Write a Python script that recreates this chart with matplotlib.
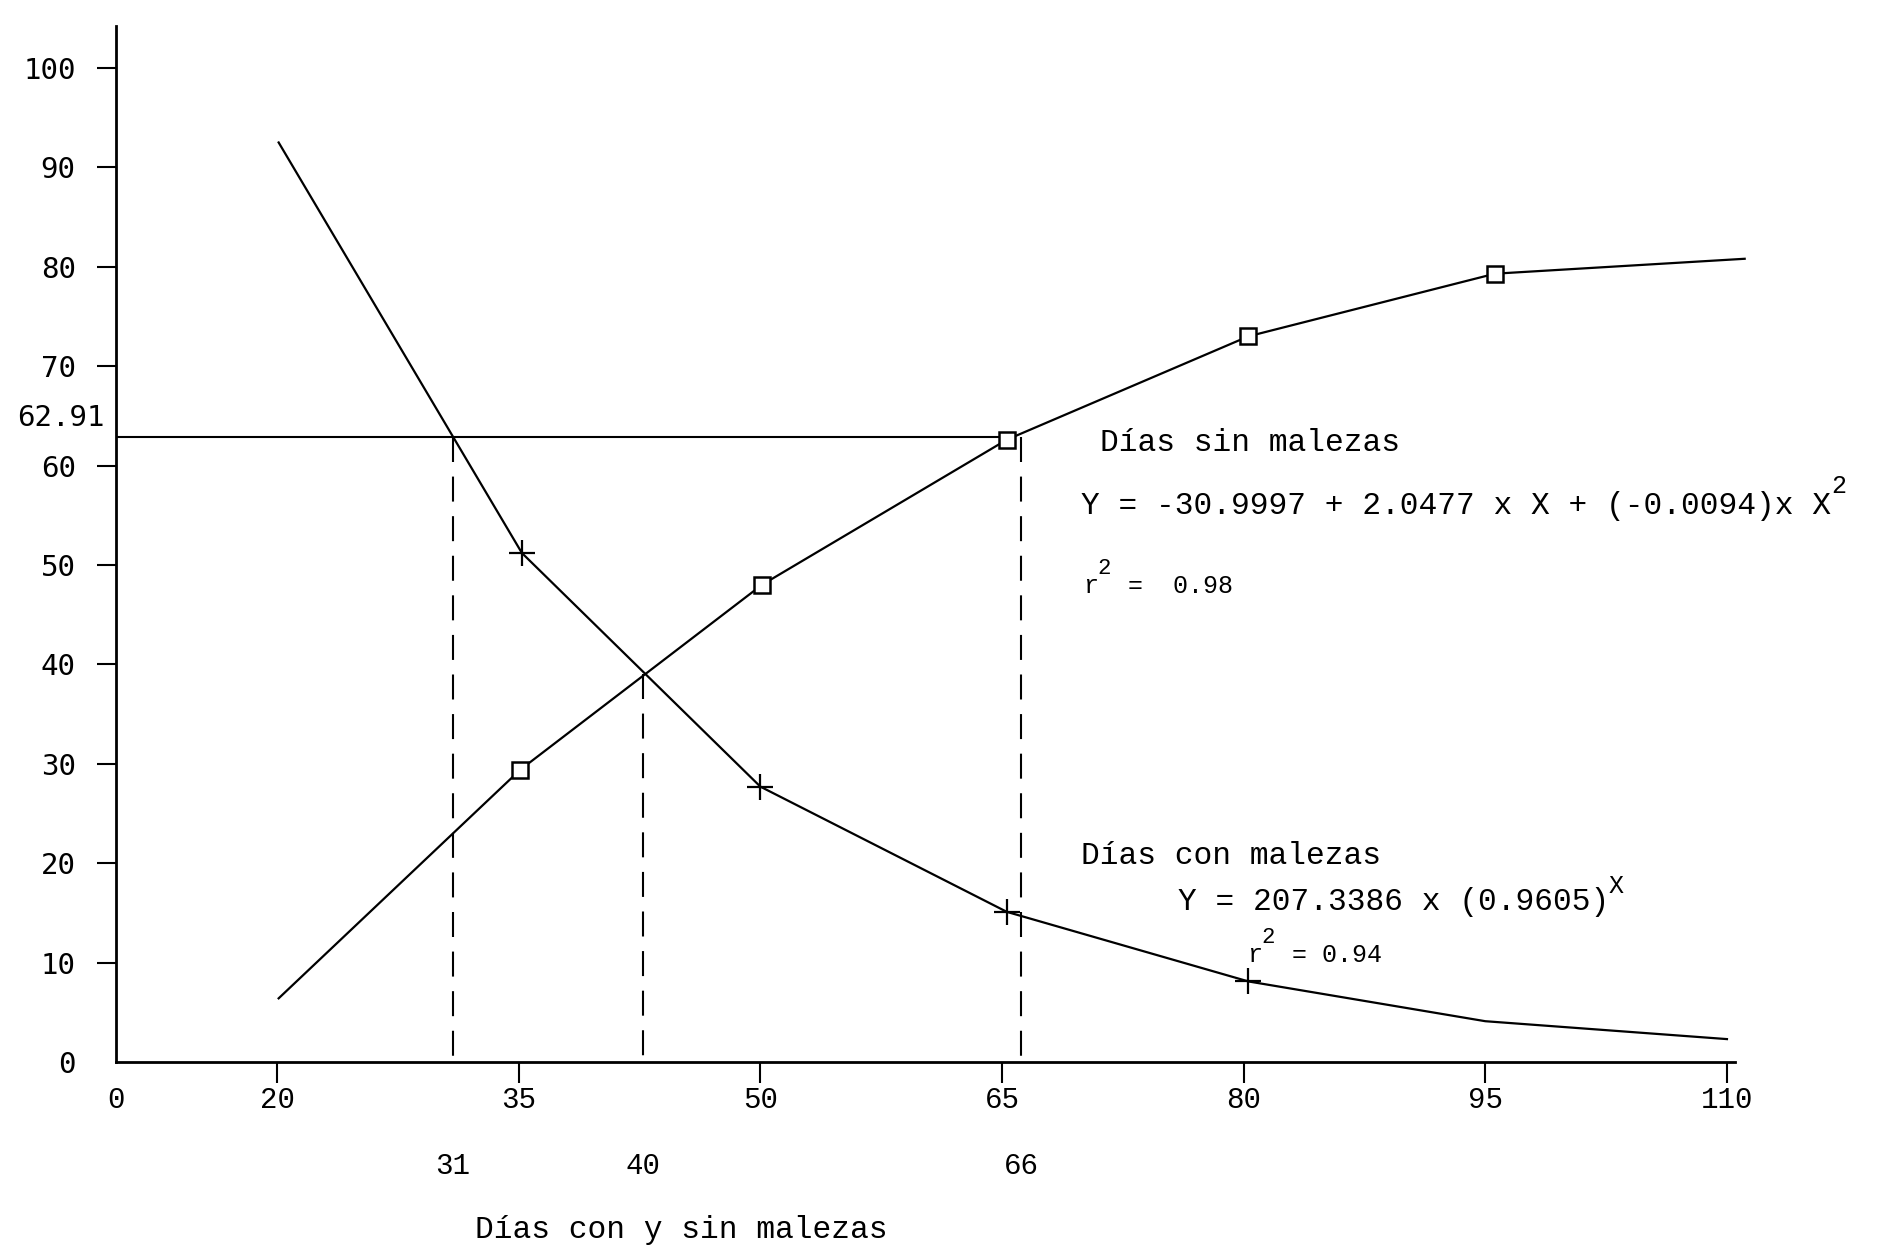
import matplotlib.pyplot as plt

plt.rcParams['font.family'] = ['Liberation Mono', 'DejaVu Sans Mono']

# Días sin malezas (cuadrados)
sin_x = [20.1, 35.1, 50.1, 65.3, 80.3, 95.6, 111.1]
sin_y = [6.4, 29.4, 48.0, 62.6, 73.0, 79.3, 80.8]
sin_mark = [False, True, True, True, True, True, False]

# Días con malezas (cruces)
con_x = [20.1, 35.2, 50.0, 65.3, 80.3, 95.0, 110.0]
con_y = [92.5, 51.2, 27.7, 15.1, 8.1, 4.1, 2.3]
con_mark = [False, True, True, True, True, False, False]

# ejes (el "0" del eje x esta dibujado en la posicion 10: eje cortado)
x_ticks = [10, 20, 35, 50, 65, 80, 95, 110]
x_labels = ['0', '20', '35', '50', '65', '80', '95', '110']
y_ticks = [0, 10, 20, 30, 40, 50, 60, 70, 80, 90, 100]

# nivel de 62.91 y lineas de corte
nivel = 62.91
corte_x = [30.9, 42.7, 66.2]
corte_top = [62.91, 39.0, 62.91]
corte_labels = ['31', '40', '66']

fig = plt.figure(figsize=(18.82, 12.46), dpi=100)
ax = fig.add_axes([0.0616, 0.1477, 0.8603, 0.8313])
ax.set_xlim(10, 110.5)
ax.set_ylim(0, 104.2)

for s in ['top', 'right']:
    ax.spines[s].set_visible(False)
for s in ['left', 'bottom']:
    ax.spines[s].set_linewidth(2)

# curvas
ax.plot(sin_x, sin_y, color='k', lw=1.6, marker='s', ms=11, mfc='white',
        mec='k', mew=1.8, markevery=sin_mark, clip_on=False, zorder=3)
ax.plot(con_x, con_y, color='k', lw=1.6, marker='+', ms=19, mew=1.6,
        markevery=con_mark, clip_on=False, zorder=3)

# linea horizontal y verticales punteadas
ax.plot([10, sin_x[3]], [nivel, nivel], color='k', lw=1.5)
for x, top in zip(corte_x, corte_top):
    ax.plot([x, x], [top, 0], color='k', lw=1.5, linestyle=(0, (12, 7)))
for x, lab in zip(corte_x, corte_labels):
    ax.text(x, -10.5, lab, ha='center', va='center', fontsize=21,
            clip_on=False)

# ticks
ax.set_xticks(x_ticks, x_labels)
ax.tick_params(axis='x', direction='out', length=15, width=1.5, pad=2,
               labelsize=21)
ax.xaxis.get_major_ticks()[0].tick1line.set_visible(False)
ax.set_yticks(y_ticks, [str(v) for v in y_ticks])
ax.tick_params(axis='y', direction='out', length=14, width=1.5, pad=15,
               labelsize=21, labelfontfamily='DejaVu Sans Mono')
ax.yaxis.get_major_ticks()[0].tick1line.set_visible(False)

ax.annotate('62.91', xy=(10, 64.8), xytext=(-8, 0), textcoords='offset points',
            ha='right', va='center', fontsize=21, family='DejaVu Sans Mono',
            annotation_clip=False)


def texto(x, y, s, fs, sup=None, resto='', sfs=17, sube=0.62):
    # texto de maquina de escribir: base, exponente elevado y el resto
    ax.text(x, y, s, fontsize=fs, va='baseline', ha='left')
    if sup:
        n = len(s)
        ax.annotate(sup, xy=(x, y), xytext=(n * 0.6 * fs, sube * fs),
                    textcoords='offset points', fontsize=sfs,
                    va='baseline', ha='left')
        if resto:
            ax.annotate(resto, xy=(x, y), xytext=((n + 1) * 0.6 * fs, 0),
                        textcoords='offset points', fontsize=fs,
                        va='baseline', ha='left')


texto(71.1, 61.5, 'Días sin malezas', 22.5)
texto(69.9, 55.1, 'Y = -30.9997 + 2.0477 x X + (-0.0094)x X', 22.5,
      sup='2', sfs=18, sube=0.68)
texto(70.0, 47.2, 'r', 18, sup='2', resto=' =  0.98', sfs=16, sube=0.75)
texto(69.9, 19.9, 'Días con malezas', 22.5)
texto(75.9, 15.3, 'Y = 207.3386 x (0.9605)', 22.5, sup='X',
      sfs=18, sube=0.55)
texto(80.2, 10.1, 'r', 18, sup='2', resto=' = 0.94', sfs=16, sube=0.75)

ax.text(45.1, -16.9, 'Días con y sin malezas', ha='center', va='center',
        fontsize=22.5, clip_on=False)

fig.savefig('out.png', dpi=100)
